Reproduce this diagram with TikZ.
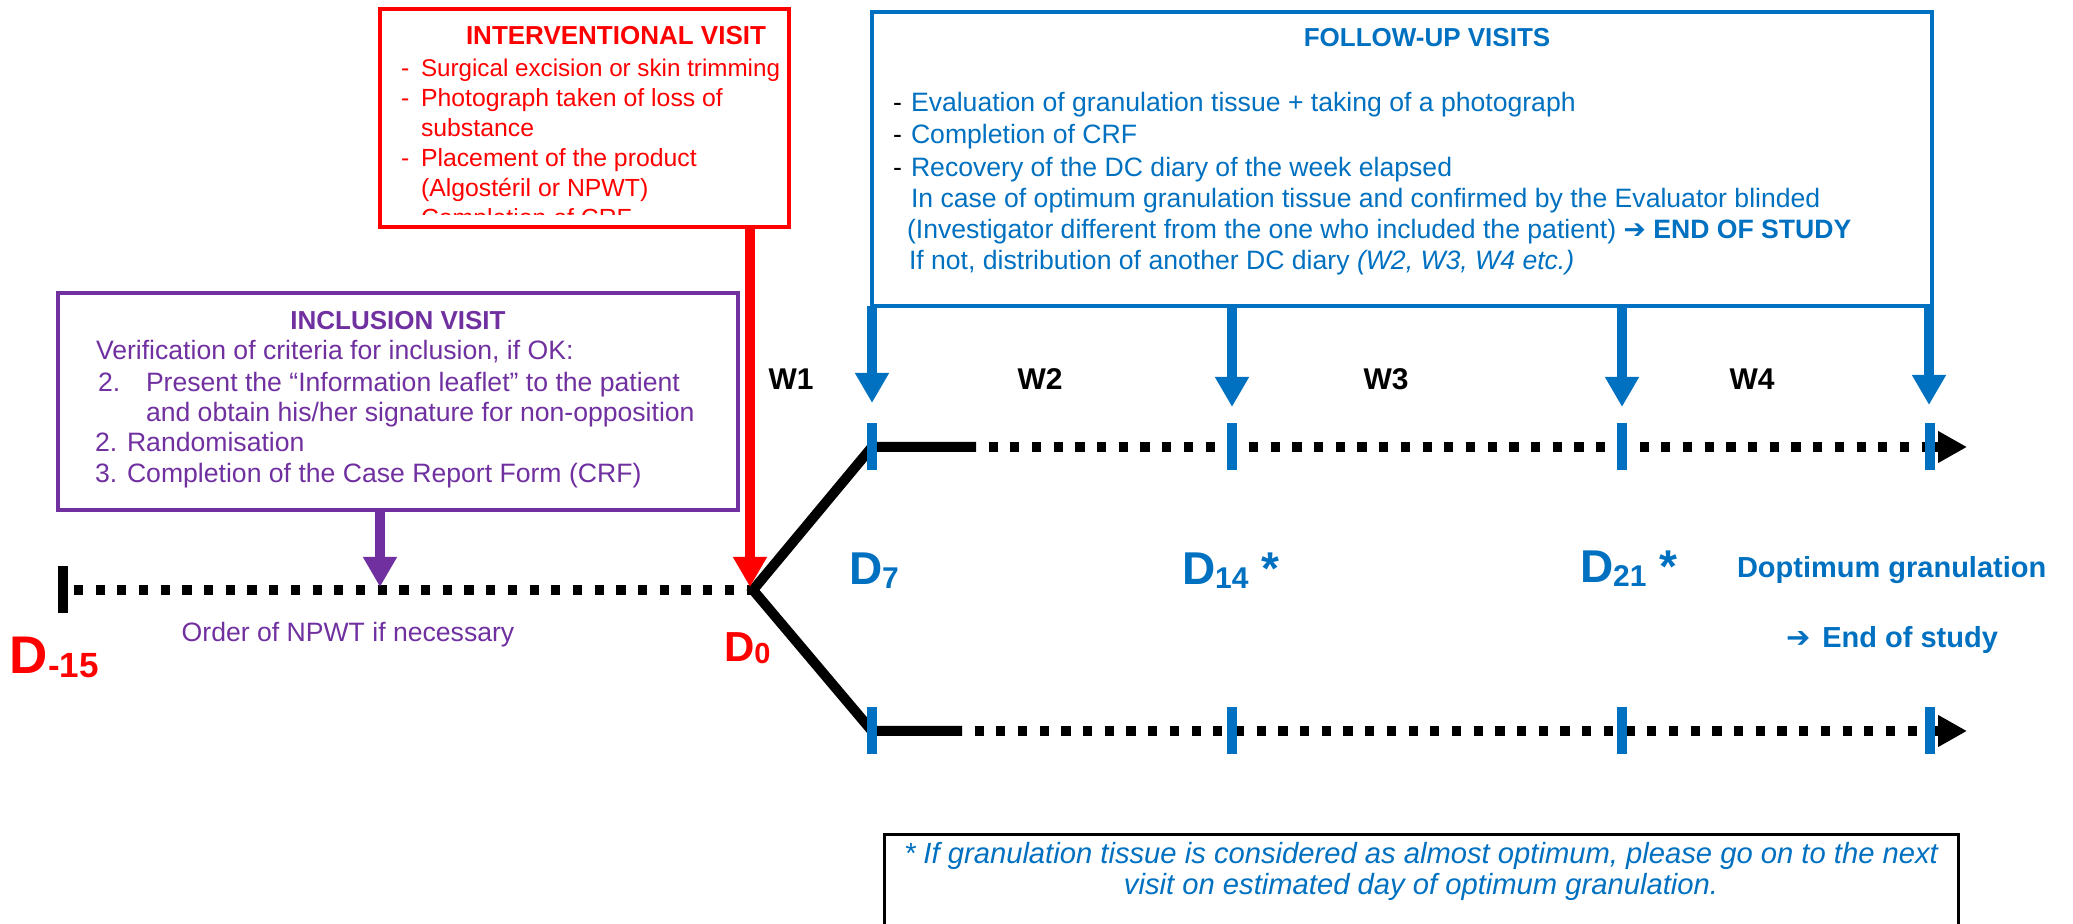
\documentclass[tikz,border=0pt]{standalone}
\usepackage{fontspec}
\setmainfont{Liberation Sans}
\newfontfamily\dejavu{DejaVu Sans}
\usetikzlibrary{arrows.meta}
\definecolor{cred}{HTML}{FF0000}
\definecolor{cpur}{HTML}{7030A0}
\definecolor{cblu}{HTML}{0070C0}
\newcommand\myrarr{{\dejavu\bfseries ➔}}
\begin{document}
\begin{tikzpicture}[x=0.5pt,y=-0.5pt,
  every node/.style={inner sep=0pt, outer sep=0pt},
  body/.style={font=\fontsize{13.3}{16}\selectfont, anchor=base west},
  rbody/.style={font=\fontsize{12.4}{15}\selectfont, anchor=base west, text=cred},
  ttl/.style={font=\fontsize{13}{16}\selectfont\bfseries, anchor=base},
  vbox/.style={draw, line width=2pt},
  varrow/.style={line width=5pt, -{Triangle[width=16pt,length=15pt]}},
  solidline/.style={line width=5pt, line join=miter},
  dotline/.style={line width=5pt, dash pattern=on 4.6pt off 6.25pt},
  btick/.style={fill=cblu, minimum width=5pt, minimum height=23.5pt},
  ktick/.style={fill=black, minimum width=5pt, minimum height=23.5pt},
  week/.style={font=\fontsize{15}{18}\selectfont\bfseries, anchor=base},
  dlab/.style={font=\bfseries, anchor=base west},
  note/.style={font=\fontsize{14.6}{17}\selectfont\itshape, text=cblu, anchor=base}
]
\useasboundingbox (0,0) rectangle (2073,924);

% ---------- boxes ----------
\node[vbox, draw=cred, minimum width=204.5pt, minimum height=109pt] (iv) at (584.5,118) {};
\node[vbox, draw=cblu, minimum width=530pt, minimum height=147pt] (fu) at (1402,159) {};
\node[vbox, draw=cpur, line width=1.6pt, minimum width=340pt, minimum height=108.5pt] (inc) at (398,401.5) {};

% ---------- timeline coordinates ----------
\coordinate (m15) at (63,590);
\coordinate (npwt) at (380,587);
\coordinate (d0) at (753,590);
\coordinate (d0tip) at (750,587);
\coordinate (t7) at (872,447);
\coordinate (s7) at (976,447);
\coordinate (t14) at (1232,447);
\coordinate (t21) at (1622,447);
\coordinate (t28) at (1930,447);
\coordinate (e1) at (1967,447);
\coordinate (b7) at (872,731);
\coordinate (bs7) at (962,731);
\coordinate (b14) at (1232,731);
\coordinate (b21) at (1622,731);
\coordinate (b28) at (1930,731);
\coordinate (e2) at (1967,731);
\coordinate (a7) at (872,403);
\coordinate (a14) at (1232,407);
\coordinate (a21) at (1622,407);
\coordinate (a28) at (1929,405);

% ---------- lines ----------
\draw[dotline, dash phase=5.45pt] (m15) -- (d0);
\draw[solidline] (s7) -- (t7) -- (d0) -- (b7) -- (bs7);
\draw[dotline, dash phase=4.6pt] (s7) -- (t28);
\draw[dotline, dash phase=4.6pt] (bs7) -- (b28);
\draw[line width=5pt, -{Triangle[width=15pt,length=14.5pt]}] (t28) -- (e1);
\draw[line width=5pt, -{Triangle[width=15pt,length=14.5pt]}] (b28) -- (e2);

% ---------- ticks ----------
\node[ktick] (k15) at (m15) {};
\node[btick] (k7) at (t7) {};
\node[btick] (k14) at (t14) {};
\node[btick] (k21) at (t21) {};
\node[btick] (k28) at (t28) {};
\node[btick] (l7) at (b7) {};
\node[btick] (l14) at (b14) {};
\node[btick] (l21) at (b21) {};
\node[btick] (l28) at (b28) {};

% ---------- arrows ----------
\draw[varrow, cpur] (inc.south -| npwt) -- (npwt);
\draw[varrow, cred] (iv.south -| d0tip) -- (d0tip);
\draw[varrow, cblu] (fu.south -| a7) -- (a7);
\draw[varrow, cblu] (fu.south -| a14) -- (a14);
\draw[varrow, cblu] (fu.south -| a21) -- (a21);
\draw[varrow, cblu] (fu.south -| a28) -- (a28);

% ---------- interventional visit text ----------
\begin{scope}
\clip (382,11) rectangle (787,215);
\node[ttl, text=cred] (ivt) at (616,45) {INTERVENTIONAL VISIT};
\node[rbody] (iv1d) at (401,77) {-};
\node[rbody, font=\fontsize{12.1}{15}\selectfont] (iv1) at (421,77) {Surgical excision or skin trimming};
\node[rbody] (iv2d) at (401,107) {-};
\node[rbody] (iv2) at (421,107) {Photograph taken of loss of};
\node[rbody] (iv3) at (421,137) {substance};
\node[rbody] (iv4d) at (401,167) {-};
\node[rbody] (iv4) at (421,167) {Placement of the product};
\node[rbody] (iv5) at (421,197) {(Algostéril or NPWT)};
\node[rbody] (iv6d) at (401,227) {-};
\node[rbody] (iv6) at (421,227) {Completion of CRF};
\end{scope}

% ---------- follow-up text ----------
\node[ttl, text=cblu] (fut) at (1427,47) {FOLLOW-UP VISITS};
\node[body] (fu1d) at (893,112) {-};
\node[body, text=cblu] (fu1) at (911,112) {Evaluation of granulation tissue + taking of a photograph};
\node[body] (fu2d) at (893,144) {-};
\node[body, text=cblu] (fu2) at (911,144) {Completion of CRF};
\node[body] (fu3d) at (893,177) {-};
\node[body, text=cblu] (fu3) at (911,177) {Recovery of the DC diary of the week elapsed};
\node[body, text=cblu] (fu4) at (911,208) {In case of optimum granulation tissue and confirmed by the Evaluator blinded};
\node[body, text=cblu] (fu5) at (907,239) {(Investigator different from the one who included the patient) \myrarr\ \textbf{END OF STUDY}};
\node[body, text=cblu] (fu6) at (909,270) {If not, distribution of another DC diary \textit{(W2, W3, W4 etc.)}};

% ---------- inclusion text ----------
\node[ttl, text=cpur] (inct) at (398,330) {INCLUSION VISIT};
\node[body, text=cpur] (inc1) at (96,360) {Verification of criteria for inclusion, if OK:};
\node[body, text=cpur] (inc2n) at (98,392) {2.};
\node[body, text=cpur] (inc2) at (146,392) {Present the “Information leaflet” to the patient};
\node[body, text=cpur] (inc3) at (146,422) {and obtain his/her signature for non-opposition};
\node[body, text=cpur] (inc4) at (95,452) {2. Randomisation};
\node[body, text=cpur] (inc5) at (95,483) {3. Completion of the Case Report Form (CRF)};

\node[body, anchor=base, text=cpur] (order) at (348,642) {Order of NPWT if necessary};

% ---------- week labels ----------
\node[week] (w1) at (791,390) {W1};
\node[week] (w2) at (1040,390) {W2};
\node[week] (w3) at (1386,390) {W3};
\node[week] (w4) at (1752,390) {W4};

% ---------- day labels ----------
\node[dlab, text=cred] (lm15) at (10,674) {\fontsize{26.5}{30}\selectfont D\fontsize{17.5}{20}\selectfont\raisebox{-2pt}{-15}};
\node[dlab, text=cred] (l0) at (724,662) {\fontsize{21}{24}\selectfont D\fontsize{14.5}{17}\selectfont\raisebox{-1pt}{0}};
\node[dlab, text=cblu] (ld7) at (849,585) {\fontsize{23}{26}\selectfont D\fontsize{15}{18}\selectfont\raisebox{-2pt}{7}};
\node[dlab, text=cblu] (ld14) at (1182,585) {\fontsize{23}{26}\selectfont D{\fontsize{15}{18}\selectfont\raisebox{-2pt}{14}} *};
\node[dlab, text=cblu] (ld21) at (1580,583) {\fontsize{23}{26}\selectfont D{\fontsize{15}{18}\selectfont\raisebox{-2pt}{21}} *};
\node[dlab, text=cblu, font=\fontsize{14.5}{17}\selectfont\bfseries] (lopt) at (1737,578) {Doptimum granulation};
\node[dlab, text=cblu, font=\fontsize{14.5}{17}\selectfont\bfseries] (lend) at (1786,648) {\myrarr\hspace{6pt}End of study};

% ---------- footnote ----------
\draw[line width=1.5pt] (884,930) -- (884,834) -- (1958,834) -- (1958,930);
\node[note] (n1) at (1421,863) {* If granulation tissue is considered as almost optimum, please go on to the next};
\node[note] (n2) at (1421,894) {visit on estimated day of optimum granulation.};
\end{tikzpicture}
\end{document}
